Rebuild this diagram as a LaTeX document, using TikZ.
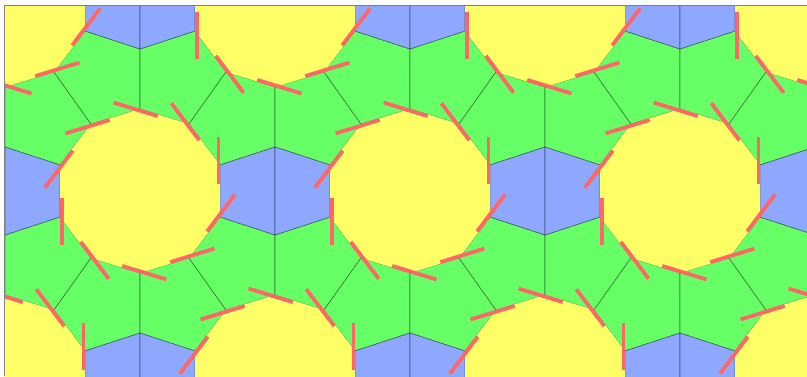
\documentclass[tikz,border=0pt]{standalone}
\usepackage{tikz}
\usetikzlibrary{calc}
\definecolor{deca}{RGB}{255,255,102}
\definecolor{penta}{RGB}{102,255,102}
\definecolor{hexa}{RGB}{143,168,255}
\definecolor{barred}{RGB}{255,102,102}

\begin{document}
\begin{tikzpicture}[x=1pt,y=-1pt,
  tile/.style={draw=black,draw opacity=0.45,line width=0.6pt,line join=round},
  redbar/.style={draw=barred,line width=3.8pt}]
\fill[white] (0,0) rectangle (807,376);
\useasboundingbox (0,0) rectangle (807,376);
\begin{scope}
\clip (4,5) rectangle (807,376);
\foreach \i in {-2,...,3}
  \foreach \j in {-1,0,1}{
    \begin{scope}[shift={({140+270*\i+135*\j},{191+186*\j})}]
      \foreach \s in {1,-1}{
        \filldraw[tile,fill=penta,yscale=\s] (135,-44)--(80,-26)--(49,-67)--(86,-119)--(135,-104)--cycle;
        \filldraw[tile,fill=penta,yscale=\s] (135,-44)--(190,-26)--(221,-67)--(184,-119)--(135,-104)--cycle;
      }
      \filldraw[tile,fill=hexa] (135,-44)--(80,-26)--(80,26)--(135,44)--cycle;
      \filldraw[tile,fill=hexa] (135,-44)--(190,-26)--(190,26)--(135,44)--cycle;
    \end{scope}
  }
\foreach \i in {-2,...,3}
  \foreach \j in {-1,0,1}{
    \begin{scope}[shift={({140+270*\i+135*\j},{191+186*\j})}]
      \path (0,0) coordinate (c) (0,-82) coordinate (v0) (49,-67) coordinate (v1) (80,-26) coordinate (v2)
        (80,26) coordinate (v3) (49,67) coordinate (v4) (0,82) coordinate (v5)
        (-49,67) coordinate (v6) (-80,26) coordinate (v7) (-80,-26) coordinate (v8)
        (-49,-67) coordinate (v9) (0,-82) coordinate (v10);
      \fill[deca] (v0)--(v1)--(v2)--(v3)--(v4)--(v5)--(v6)--(v7)--(v8)--(v9)--cycle;
      \foreach \k [count=\n from 1] in {0,...,9}
        \draw[redbar] ($(c)!0.98!($(v\k)!-0.55!(v\n)$)$)--($(c)!0.98!($(v\k)!0.37!(v\n)$)$);
    \end{scope}
  }
\end{scope}
\draw[gray] (4,376)--(4,5)--(807,5);
\end{tikzpicture}
\end{document}
